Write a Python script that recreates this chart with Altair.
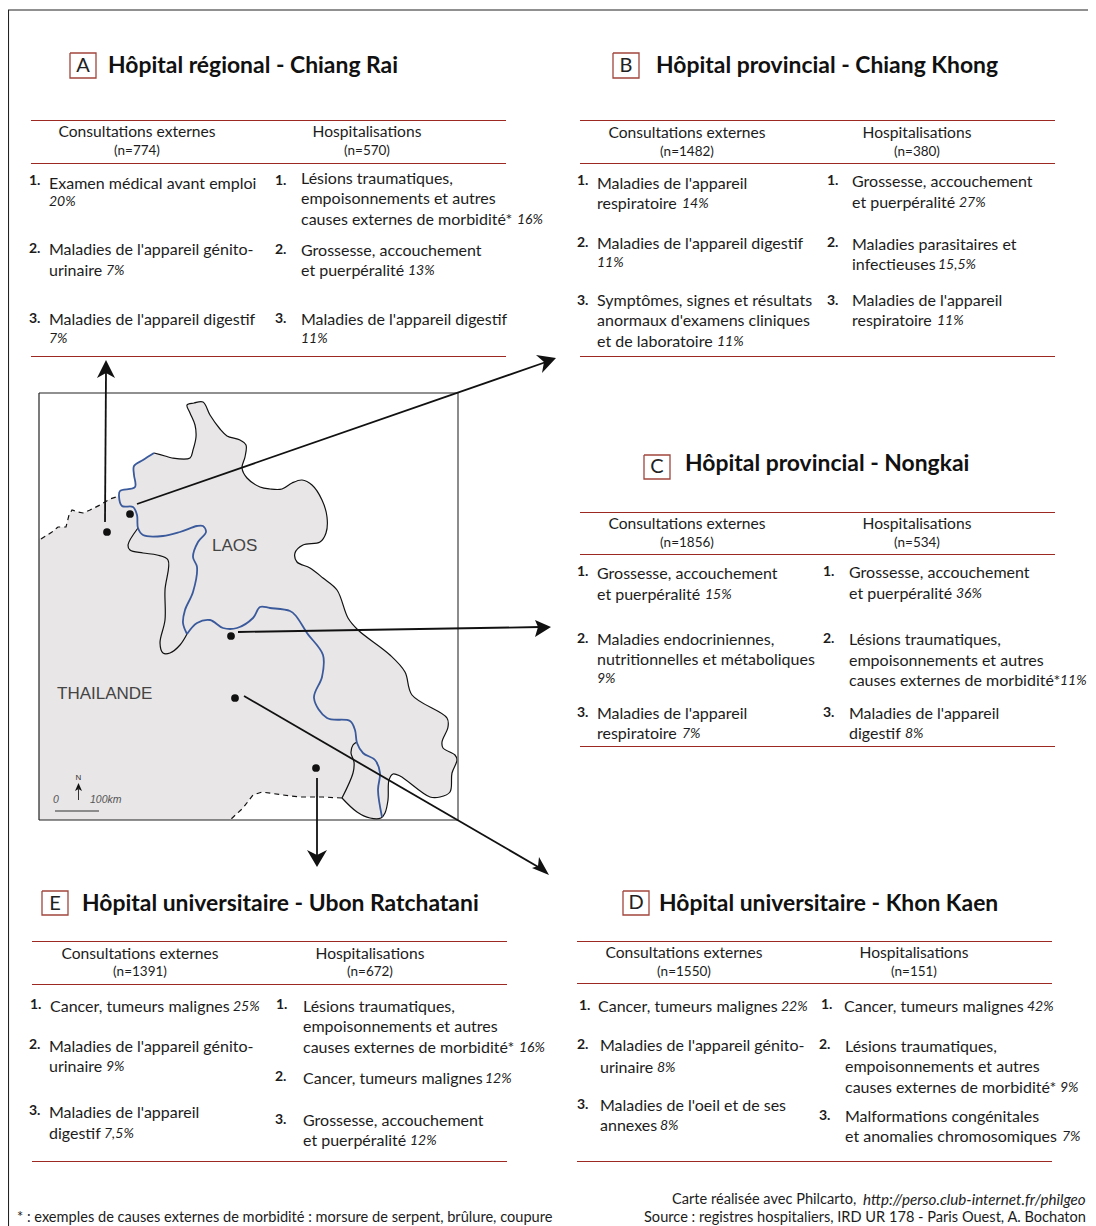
import altair as alt
import pandas as pd

FONT = "Lato"
MAPFONT = "Liberation Sans"

X = alt.Scale(domain=[8, 1088], nice=False, zero=False)
Y = alt.Scale(domain=[1226, 8], nice=False, zero=False)

# ---- panel texts: (x, y, text)
titles = [
    (108, 66, "Hôpital régional - Chiang Rai"),
    (656, 66, "Hôpital provincial - Chiang Khong"),
    (685, 464, "Hôpital provincial - Nongkai"),
    (82, 904, "Hôpital universitaire - Ubon Ratchatani"),
    (659, 904, "Hôpital universitaire - Khon Kaen"),
]
letters = [(83, 66, "A"), (626, 66, "B"), (657, 467, "C"), (55, 904, "E"), (636, 903, "D")]
boxes = [(70, 53, 96, 78), (613, 53, 639, 78), (644, 455, 670, 479), (42, 891, 68, 915), (623, 891, 649, 915)]
red_rules = [
    (31, 506, 120.5), (31, 506, 163.5), (31, 506, 356.5),
    (580, 1055, 120.5), (580, 1055, 163.5), (580, 1055, 356.5),
    (580, 1055, 512.5), (580, 1055, 554.5), (580, 1055, 746.5),
    (32, 507, 941.5), (32, 507, 984.5), (32, 507, 1161.5),
    (577, 1052, 941.5), (577, 1052, 983.5), (577, 1052, 1161.5),
]
headers = [
    (137, 132, "Consultations externes"), (367, 132, "Hospitalisations"),
    (687, 133, "Consultations externes"), (917, 133, "Hospitalisations"),
    (687, 524, "Consultations externes"), (917, 524, "Hospitalisations"),
    (140, 954, "Consultations externes"), (370, 954, "Hospitalisations"),
    (684, 953, "Consultations externes"), (914, 953, "Hospitalisations"),
]
counts = [
    (137, 151, "(n=774)"), (367, 151, "(n=570)"),
    (687, 152, "(n=1482)"), (917, 152, "(n=380)"),
    (687, 543, "(n=1856)"), (917, 543, "(n=534)"),
    (140, 972, "(n=1391)"), (370, 972, "(n=672)"),
    (684, 972, "(n=1550)"), (914, 972, "(n=151)"),
]
ranks = [
    (29, 181, "1."), (275, 181, "1."), (29, 249, "2."), (275, 250, "2."), (29, 319, "3."), (275, 319, "3."),
    (577, 181, "1."), (827, 181, "1."), (577, 243, "2."), (827, 243, "2."), (577, 301, "3."), (827, 301, "3."),
    (577, 572, "1."), (823, 572, "1."), (577, 639, "2."), (823, 639, "2."), (577, 713, "3."), (823, 713, "3."),
    (30, 1005, "1."), (276, 1005, "1."), (29, 1045, "2."), (275, 1077, "2."), (29, 1111, "3."), (275, 1120, "3."),
    (579, 1006, "1."), (821, 1005, "1."), (577, 1045, "2."), (819, 1045, "2."), (577, 1105, "3."), (819, 1116, "3."),
]
causes = [
    # A
    (49, 184, "Examen médical avant emploi"),
    (301, 179, "Lésions traumatiques,"), (301, 199, "empoisonnements et autres"), (301, 220, "causes externes de morbidité*"),
    (49, 250, "Maladies de l'appareil génito-"), (49, 271, "urinaire"),
    (301, 251, "Grossesse, accouchement"), (301, 271, "et puerpéralité"),
    (49, 320, "Maladies de l'appareil digestif"), (301, 320, "Maladies de l'appareil digestif"),
    # B
    (597, 184, "Maladies de l'appareil"), (597, 204, "respiratoire"),
    (852, 182, "Grossesse, accouchement"), (852, 203, "et puerpéralité"),
    (597, 244, "Maladies de l'appareil digestif"),
    (852, 245, "Maladies parasitaires et"), (852, 265, "infectieuses"),
    (597, 301, "Symptômes, signes et résultats"), (597, 321, "anormaux d'examens cliniques"), (597, 342, "et de laboratoire"),
    (852, 301, "Maladies de l'appareil"), (852, 321, "respiratoire"),
    # C
    (597, 574, "Grossesse, accouchement"), (597, 595, "et puerpéralité"),
    (849, 573, "Grossesse, accouchement"), (849, 594, "et puerpéralité"),
    (597, 640, "Maladies endocriniennes,"), (597, 660, "nutritionnelles et métaboliques"),
    (849, 640, "Lésions traumatiques,"), (849, 661, "empoisonnements et autres"), (849, 681, "causes externes de morbidité*"),
    (597, 714, "Maladies de l'appareil"), (597, 734, "respiratoire"),
    (849, 714, "Maladies de l'appareil"), (849, 734, "digestif"),
    # E
    (50, 1007, "Cancer, tumeurs malignes"),
    (303, 1007, "Lésions traumatiques,"), (303, 1027, "empoisonnements et autres"), (303, 1048, "causes externes de morbidité*"),
    (49, 1047, "Maladies de l'appareil génito-"), (49, 1067, "urinaire"),
    (303, 1079, "Cancer, tumeurs malignes"),
    (49, 1113, "Maladies de l'appareil"), (49, 1134, "digestif"),
    (303, 1121, "Grossesse, accouchement"), (303, 1141, "et puerpéralité"),
    # D
    (598, 1007, "Cancer, tumeurs malignes"), (844, 1007, "Cancer, tumeurs malignes"),
    (600, 1046, "Maladies de l'appareil génito-"), (600, 1068, "urinaire"),
    (845, 1047, "Lésions traumatiques,"), (845, 1067, "empoisonnements et autres"), (845, 1088, "causes externes de morbidité*"),
    (600, 1106, "Maladies de l'oeil et de ses"), (600, 1126, "annexes"),
    (845, 1117, "Malformations congénitales"), (845, 1137, "et anomalies chromosomiques"),
]
shares = [
    (49, 202, "20%"), (517, 220, "16%"), (106, 271, "7%"), (408, 271, "13%"), (49, 339, "7%"), (301, 339, "11%"),
    (682, 204, "14%"), (959, 203, "27%"), (597, 263, "11%"), (938, 265, "15,5%"), (717, 342, "11%"), (937, 321, "11%"),
    (705, 595, "15%"), (956, 594, "36%"), (597, 679, "9%"), (1060, 681, "11%"), (682, 734, "7%"), (905, 734, "8%"),
    (233, 1007, "25%"), (519, 1048, "16%"), (106, 1067, "9%"), (485, 1079, "12%"), (104, 1134, "7,5%"), (410, 1141, "12%"),
    (781, 1007, "22%"), (1027, 1007, "42%"), (657, 1068, "8%"), (1060, 1088, "9%"), (660, 1126, "8%"), (1062, 1137, "7%"),
]
foot_left = [(17, 1218, "* : exemples de causes externes de morbidité : morsure de serpent,  brûlure,  coupure")]
foot_roman = [
    (672, 1200, "Carte réalisée avec Philcarto,"),
    (644, 1218, "Source :  registres hospitaliers, IRD UR 178 - Paris Ouest, A. Bochaton"),
]
foot_italic = [(863, 1200, "http://perso.club-internet.fr/philgeo")]

# ---- map
land = [
    (39, 539), (52, 532), (58, 527), (66, 527), (69, 515), (72, 510), (78, 512), (83, 513), (90, 510), (100, 505),
    (110, 499), (119, 496), (120, 491), (135, 487), (134, 475), (134, 466), (143, 460), (154, 453), (165, 456),
    (172, 458), (190, 458), (193, 450), (196, 437), (195, 425), (190, 413), (187, 405), (194, 403), (203, 402),
    (210, 415), (220, 429), (227, 436), (240, 440), (246, 445), (245, 457), (242, 468), (247, 478), (260, 487),
    (270, 489), (282, 489), (292, 483), (302, 480), (312, 485), (322, 500), (327, 517), (326, 533), (320, 542),
    (303, 545), (295, 553), (297, 562), (310, 568), (323, 578), (337, 590), (348, 618), (358, 630), (390, 655),
    (405, 672), (412, 695), (447, 718), (448, 727), (442, 742), (443, 748), (455, 755), (457, 760), (452, 773),
    (450, 792), (440, 797), (430, 797), (400, 776), (393, 774), (389, 780), (388, 800), (385, 813), (381, 818),
    (370, 818), (357, 812), (342, 798), (323, 797), (300, 797), (283, 795), (262, 792), (253, 795), (243, 808),
    (230, 820), (39, 820), (39, 539),
]
border_outer = [
    (154, 453), (165, 456), (172, 458), (190, 458), (193, 450), (196, 437), (195, 425), (190, 413), (187, 405),
    (194, 403), (203, 402), (210, 415), (220, 429), (227, 436), (240, 440), (246, 445), (245, 457), (242, 468),
    (247, 478), (260, 487), (270, 489), (282, 489), (292, 483), (302, 480), (312, 485), (322, 500), (327, 517),
    (326, 533), (320, 542), (303, 545), (295, 553), (297, 562), (310, 568), (323, 578), (337, 590), (348, 618),
    (358, 630), (390, 655), (405, 672), (412, 695), (447, 718), (448, 727), (442, 742), (443, 748), (455, 755),
    (457, 760), (452, 773), (450, 792), (440, 797), (430, 797), (400, 776), (393, 774), (389, 780), (388, 800),
    (385, 813), (381, 818), (370, 818), (357, 812), (342, 798),
]
border_west = [
    (138, 528), (128, 545), (130, 550), (143, 553), (157, 555), (168, 560), (165, 590), (165, 620), (160, 643),
    (163, 653), (170, 653), (180, 645), (187, 634),
]
border_south = [(342, 798), (353, 773), (354, 762), (351, 753), (353, 745), (357, 742)]
river = [
    (154, 453), (143, 460), (134, 466), (134, 475), (135, 487), (120, 491), (119, 496), (122, 506), (133, 507),
    (137, 515), (138, 528), (143, 535), (163, 536), (180, 532), (197, 526), (203, 526), (206, 532), (198, 542),
    (193, 557), (197, 567), (193, 592), (185, 610), (183, 623), (187, 634),
]
river2 = [
    (187, 634), (197, 623), (210, 620), (223, 628), (237, 628), (253, 618), (260, 607), (270, 608), (290, 611),
    (296, 616), (307, 633), (323, 655), (322, 677), (314, 698), (327, 718), (350, 721), (355, 730), (357, 743),
    (363, 753), (375, 760), (380, 773), (378, 790), (382, 817),
]
dash_nw = [
    (41, 539), (52, 532), (58, 527), (66, 527), (69, 515), (72, 510), (78, 512), (83, 513), (90, 510), (100, 505),
    (110, 499), (119, 496),
]
dash_se = [(342, 798), (323, 797), (300, 797), (283, 795), (262, 792), (253, 795), (243, 808), (230, 820)]
arrows = [
    [(105, 522), (106, 372)],
    [(137, 504), (546, 362)],
    [(238, 632), (540, 627)],
    [(244, 696), (540, 868)],
    [(317, 778), (317, 857)],
]
heads = [
    [(106, 360), (97, 378), (106, 373), (115, 378)],
    [(556, 358), (542, 373), (544, 362), (536, 355)],
    [(551, 627), (535, 637), (538, 627), (535, 620)],
    [(549, 875), (532, 868), (538, 866), (539, 857)],
    [(317, 867), (307, 850), (317, 855), (327, 850)],
    [(78.5, 783), (75, 791), (78.5, 789), (82, 791)],
]
cities = [(107, 532), (130, 514), (231, 636), (235, 698), (316, 768)]
map_names = [(212, 546, "LAOS"), (57, 694, "THAILANDE")]
scale_labels = [(53, 800, "0"), (90, 800, "100km")]
north_label = [(75.5, 778, "N")]
frame_map = [(39, 393), (458, 393)], [(39, 393), (39, 820)], [(39, 820), (458, 820)]
frame_right = [(458, 393), (458, 820)]
frame_outer = [(8.5, 1226), (8.5, 10), (1088, 10)]
scale_bar = [(55, 811), (99, 811)]
north_arrow = [(78.5, 800), (78.5, 788)]


def texts(rows, align="left", **kw):
    df = pd.DataFrame(rows, columns=["x", "y", "t"])
    params = dict(font=FONT, fontSize=16, color="#1c1c1c", align=align, baseline="middle")
    params.update(kw)
    return alt.Chart(df).mark_text(**params).encode(
        x=alt.X("x:Q", scale=X, axis=None), y=alt.Y("y:Q", scale=Y, axis=None), text="t:N"
    )


def path(points, color="#111111", width=1.2, interp="linear", dash=None):
    df = pd.DataFrame(points, columns=["x", "y"])
    df["i"] = range(len(df))
    params = dict(color=color, strokeWidth=width, interpolate=interp, clip=False)
    if dash:
        params["strokeDash"] = dash
    return alt.Chart(df).mark_line(**params).encode(
        x=alt.X("x:Q", scale=X, axis=None), y=alt.Y("y:Q", scale=Y, axis=None), order="i:Q"
    )


def polygons(rings, **kw):
    feats = [
        {"type": "Feature", "properties": {}, "geometry": {"type": "Polygon", "coordinates": [[list(p) for p in r] + [list(r[0])]]}}
        for r in rings
    ]
    return alt.Chart(alt.Data(values=feats)).mark_geoshape(**kw).project(type="identity", scale=1, translate=[-8, -8])


layers = [polygons([land], fill="#e8e6e7", stroke=None)]
layers += [path(border_outer, interp="catmull-rom"), path(border_west, interp="catmull-rom"), path(border_south, interp="catmull-rom")]
layers += [path(river, color="#3a5a9c", width=1.8, interp="catmull-rom"), path(river2, color="#3a5a9c", width=1.8, interp="catmull-rom")]
layers += [path(dash_nw, dash=[5, 4]), path(dash_se, dash=[5, 4])]
layers += [path(p, color="#222222", width=1.2) for p in frame_map]
layers += [path(frame_right, color="#666666", width=1.5), path(frame_outer, color="#222222", width=1.1)]
layers += [path(a, width=1.8) for a in arrows]
layers += [polygons(heads, fill="#111111", stroke=None)]
layers += [path(scale_bar, color="#333333", width=1), path(north_arrow, color="#333333", width=1)]
layers.append(
    alt.Chart(pd.DataFrame(cities, columns=["x", "y"])).mark_circle(size=60, color="#111111", opacity=1).encode(
        x=alt.X("x:Q", scale=X, axis=None), y=alt.Y("y:Q", scale=Y, axis=None)
    )
)
layers += [texts(map_names, font=MAPFONT, fontSize=17, color="#444444")]
layers += [texts(scale_labels, font=MAPFONT, fontSize=10.5, fontStyle="italic", color="#555555")]
layers += [texts(north_label, font=MAPFONT, fontSize=8, color="#333333")]
for x1, y1, x2, y2 in boxes:
    layers.append(path([(x1, y1), (x2, y1), (x2, y2), (x1, y2), (x1, y1)], color="#a0453c", width=1.3))
for x1, x2, yy in red_rules:
    layers.append(path([(x1, yy), (x2, yy)], color="#9c2a22", width=1.2))
layers += [
    texts(titles, fontSize=22.9, fontWeight="bold", color="#111111"),
    texts(letters, align="center", fontSize=20, color="#222222"),
    texts(headers, align="center", fontSize=15.6),
    texts(counts, align="center", fontSize=13.5),
    texts(ranks, fontWeight="bold", fontSize=14),
    texts(causes),
    texts(shares, fontStyle="italic", fontSize=14),
    texts(foot_left, fontSize=14.6),
    texts(foot_roman, fontSize=14.6),
    texts(foot_italic, fontStyle="italic", fontSize=15.2),
]

chart = alt.layer(*layers).properties(
    width=1080, height=1218, padding=0, autosize=alt.AutoSizeParams(type="none")
).configure_view(stroke=None)

chart.save("out.html", embed_options={"renderer": "svg", "actions": False})
